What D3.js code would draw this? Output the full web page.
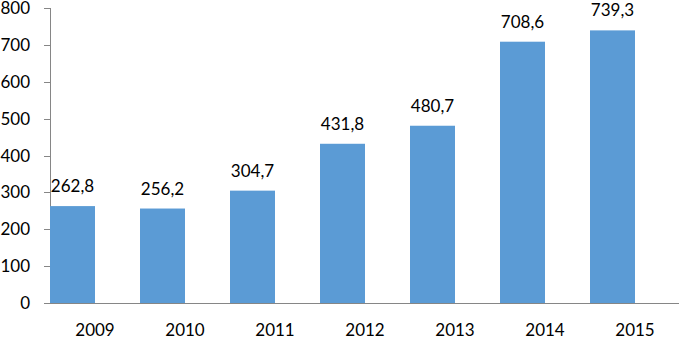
<!DOCTYPE html>
<html>
<head>
<meta charset="utf-8">
<script src="https://cdn.jsdelivr.net/npm/d3@7"></script>
<style>
  body { margin: 0; background: #fff; }
  svg text { font-family: Lato, "Open Sans", sans-serif; fill: #000; }
</style>
</head>
<body>
<svg class="chart" width="679" height="337"></svg>
<script>
const years = ["2009", "2010", "2011", "2012", "2013", "2014", "2015"];
const values = [262.8, 256.2, 304.7, 431.8, 480.7, 708.6, 739.3];
const yTicks = [0, 100, 200, 300, 400, 500, 600, 700, 800];

const svg = d3.select(".chart");
const BARFILL = "#5b9bd5";
const AXIS = "#868686";

const x = d3.scaleBand()
    .domain(years)
    .range([50, 680]);

const y = d3.scaleLinear()
    .domain([0, 800])
    .range([303, 8]);

// y axis
svg.append("line")
    .attr("x1", 50.5).attr("x2", 50.5)
    .attr("y1", y(800)).attr("y2", y(0))
    .attr("stroke", AXIS);

svg.selectAll(".ytick")
    .data(yTicks)
    .enter()
    .append("line")
    .attr("x1", 44).attr("x2", 50)
    .attr("y1", d => Math.round(y(d)) + 0.5)
    .attr("y2", d => Math.round(y(d)) + 0.5)
    .attr("stroke", AXIS);

svg.selectAll(".ylabel")
    .data(yTicks)
    .enter()
    .append("text")
    .attr("x", 30)
    .attr("y", d => y(d) + 6)
    .attr("text-anchor", "end")
    .style("font-size", "17px")
    .text(d => d);

// bars
svg.selectAll(".bar")
    .data(values)
    .enter()
    .append("rect")
    .attr("x", (d, i) => x(years[i]))
    .attr("y", d => y(d))
    .attr("width", x.bandwidth() / 2)
    .attr("height", d => y(0) - y(d))
    .style("fill", BARFILL);

// value labels
svg.selectAll(".vlabel")
    .data(values)
    .enter()
    .append("text")
    .attr("x", (d, i) => x(years[i]) + x.bandwidth() / 4)
    .attr("y", d => y(d) - 14)
    .attr("text-anchor", "middle")
    .style("font-size", "17px")
    .text(d => d3.format(".1f")(d).replace(".", ","));

// x axis
svg.append("line")
    .attr("x1", 50).attr("x2", 679)
    .attr("y1", Math.round(y(0)) + 0.5).attr("y2", Math.round(y(0)) + 0.5)
    .attr("stroke", AXIS);

svg.selectAll(".xlabel")
    .data(years)
    .enter()
    .append("text")
    .attr("x", d => x(d) + x.bandwidth() / 2)
    .attr("y", 336)
    .attr("text-anchor", "middle")
    .style("font-size", "17px")
    .text(d => d);
</script>
</body>
</html>
